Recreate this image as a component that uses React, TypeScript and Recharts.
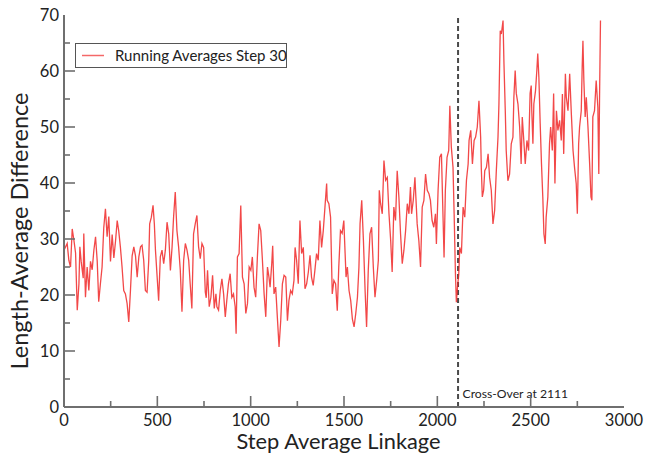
import React from 'react';
import { LineChart, Line, XAxis, YAxis, ReferenceLine, Legend } from 'recharts';

const steps = [
  0, 17, 26, 35, 44, 53, 62, 71, 80, 85, 92, 103, 106, 115, 124, 133, 142, 151, 160, 169,
  178, 186, 195, 204, 213, 222, 231, 240, 249, 258, 267, 276, 285, 293, 302, 311, 320, 329, 338, 347,
  356, 365, 374, 383, 392, 401, 410, 418, 427, 436, 445, 454, 459, 468, 477, 484, 490, 499, 507, 516,
  525, 534, 543, 552, 561, 570, 579, 587, 596, 605, 614, 623, 632, 641, 650, 659, 668, 676, 685, 694,
  703, 712, 721, 730, 739, 748, 757, 762, 769, 778, 787, 796, 805, 814, 819, 828, 837, 846, 855, 864,
  872, 881, 890, 899, 908, 917, 922, 929, 938, 947, 956, 965, 974, 983, 992, 1001, 1009, 1018, 1027, 1036,
  1045, 1054, 1063, 1072, 1081, 1090, 1098, 1104, 1113, 1118, 1125, 1134, 1143, 1152, 1161, 1170, 1179, 1188, 1197, 1205,
  1214, 1223, 1232, 1238, 1246, 1255, 1264, 1273, 1282, 1291, 1300, 1309, 1318, 1326, 1335, 1344, 1353, 1362, 1371, 1380,
  1389, 1398, 1407, 1410, 1419, 1428, 1437, 1446, 1455, 1464, 1472, 1481, 1490, 1499, 1506, 1511, 1518, 1527, 1536, 1545,
  1554, 1563, 1572, 1580, 1586, 1595, 1604, 1613, 1621, 1630, 1639, 1648, 1657, 1666, 1675, 1684, 1689, 1696, 1705, 1714,
  1723, 1732, 1741, 1750, 1758, 1767, 1776, 1785, 1794, 1803, 1812, 1821, 1830, 1839, 1848, 1856, 1862, 1871, 1880, 1885,
  1892, 1901, 1910, 1919, 1928, 1937, 1946, 1955, 1963, 1972, 1981, 1990, 1995, 2004, 2013, 2022, 2031, 2036, 2043, 2052,
  2061, 2067, 2075, 2084, 2090, 2097, 2102, 2108, 2115, 2120, 2129, 2138, 2147, 2156, 2165, 2170, 2179, 2188, 2197, 2205,
  2214, 2223, 2232, 2236, 2241, 2248, 2254, 2263, 2272, 2280, 2289, 2298, 2307, 2316, 2325, 2330, 2337, 2343, 2352, 2357,
  2364, 2369, 2378, 2387, 2396, 2405, 2410, 2417, 2423, 2432, 2441, 2449, 2455, 2462, 2471, 2480, 2489, 2497, 2503, 2506,
  2512, 2517, 2526, 2533, 2538, 2544, 2551, 2558, 2565, 2571, 2578, 2583, 2592, 2601, 2607, 2616, 2623, 2630, 2638, 2646,
  2655, 2664, 2670, 2677, 2686, 2691, 2700, 2709, 2718, 2727, 2735, 2744, 2750, 2757, 2762, 2771, 2776, 2780, 2785, 2792,
  2798, 2807, 2816, 2823, 2828, 2833, 2842, 2851, 2860, 2865, 2869, 2874,
];

const diffs = [
  28, 29.2, 26.2, 25, 31.8, 29.8, 27.5, 17.3, 22, 28.6, 26, 23, 31, 19.6, 25, 20.8, 26, 24.5, 28, 30.4,
  26, 18.8, 22, 25, 32, 35.4, 30.4, 34, 26, 30.8, 26.6, 29.6, 33.3, 31.5, 28.6, 25, 20.8, 20.2, 18.5, 15.2,
  20.8, 27, 28.6, 27, 23.2, 26.8, 28.6, 28.9, 26.2, 20.8, 20.5, 26.2, 32.7, 33.9, 36, 32.7, 28, 23.2, 19, 26.8,
  28, 25.6, 28, 33, 30.9, 24.4, 28.6, 33.9, 38.4, 31.5, 28.6, 24.4, 17, 26.2, 29.2, 28, 26.2, 22, 17.6, 30.9,
  32.7, 34.2, 28.6, 26.5, 29.2, 28.5, 20.5, 19.5, 24.4, 17.9, 19.6, 23.5, 17.6, 20.2, 17.9, 17.3, 20.8, 22.9, 20.2, 16.1,
  19, 22, 23.8, 19.6, 20.2, 17.9, 13.1, 26.8, 27.4, 36, 23.2, 22, 16.7, 18.5, 25, 24.4, 26.8, 21.4, 19.6, 26.8,
  32.7, 31.5, 26.2, 20.2, 16.1, 25, 23.2, 21.4, 25.6, 28.8, 20.2, 21.4, 16, 10.7, 15.4, 22, 23.5, 23.2, 15.4, 19,
  20.8, 20.2, 22.6, 28.5, 26.2, 22, 33.3, 27.4, 28.5, 21.1, 22, 24.1, 27.1, 23.2, 21.7, 24.4, 27.4, 26.2, 33.3, 28.5,
  31.5, 35.7, 39.9, 36.9, 36.3, 33.9, 20.2, 22.6, 22, 17.2, 25, 31.5, 31, 33.3, 27.4, 23.2, 25, 20.8, 19, 15.7,
  14.3, 16.7, 19.6, 25, 32.7, 36.9, 29.8, 20.8, 14.3, 24.4, 30.9, 32.1, 25, 19.6, 22.6, 26.2, 38.7, 36.3, 34.5, 44,
  40.5, 41, 34.5, 29.8, 24.1, 35.7, 33.3, 42.2, 37.5, 30.9, 25.6, 28, 31.5, 36.3, 34.5, 39.3, 34.5, 36.9, 41, 37.5,
  32.7, 29.7, 25, 35.7, 36.9, 41.6, 38.7, 38.1, 36.9, 33.3, 32.1, 34.5, 29.1, 38.7, 44.6, 45.2, 33.3, 26.7, 38.7, 44.6,
  45.8, 53.8, 46.4, 42.8, 34.5, 23.8, 18.7, 21.4, 23.8, 28.5, 27.4, 35.7, 33.9, 40.5, 43.4, 47.6, 49.4, 43.4, 47.6, 48.2,
  50, 54.7, 48.2, 42.2, 37.5, 38.7, 42.2, 42.8, 45.2, 41, 38.7, 32.7, 35.1, 42.2, 48.2, 54.1, 67.2, 66.6, 69, 61.3,
  52.9, 45.8, 40.4, 41.6, 47, 48.2, 55.3, 60.1, 56, 54.1, 50, 43.4, 51.8, 48.2, 43.4, 47.6, 45.8, 56, 57.4, 52.9,
  47, 54.1, 56.5, 60.1, 63.1, 58.9, 50.6, 43.4, 37.5, 30.9, 29.1, 33.9, 37.5, 47, 50, 45.8, 56, 39.9, 52.9, 49.4,
  51.2, 47.6, 55.9, 45.2, 59.5, 55.3, 52.9, 59.5, 52.3, 45.8, 42.8, 39.9, 34.5, 47, 50, 52.9, 60.7, 65.4, 58.3, 51.8,
  55.3, 50, 43.4, 37.5, 36.9, 51.8, 52.9, 58.3, 53.5, 41.6, 55.3, 69,
];

const xTicks = [0, 250, 500, 750, 1000, 1250, 1500, 1750, 2000, 2250, 2500, 2750, 3000];
const yTicks = [0, 5, 10, 15, 20, 25, 30, 35, 40, 45, 50, 55, 60, 65, 70];
const SERIES_NAME = 'Running Averages Step 30';
const CROSSOVER = 2111;
const CROSSOVER_LABEL = 'Cross-Over at 2111';
const X_TITLE = 'Step Average Linkage';
const Y_TITLE = 'Length-Average Difference';

const data = steps.map((s, i) => ({ step: s, diff: diffs[i] }));

const AXIS = '#6f6f6f';
const TEXT = '#222222';
const RED = '#f02828';
const FONT = 'Lato, "Open Sans", sans-serif';

const LeftTick = (p: any) => {
  const v = p.payload.value;
  const major = v % 10 === 0;
  return (
    <g>
      {v > 0 && v < 70 && (
        <line x1={p.x} x2={p.x + (major ? 11 : 6)} y1={p.y} y2={p.y} stroke={AXIS} strokeWidth={1.6} />
      )}
      {major && (
        <text x={p.x - 5} y={p.y} dy="0.36em" textAnchor="end" fontSize={16.5} fill={TEXT} fontFamily={FONT}>
          {v}
        </text>
      )}
    </g>
  );
};

const RightTick = (p: any) => {
  const v = p.payload.value;
  return (
    <g>
      {v > 0 && v < 70 && (
        <line x1={p.x} x2={p.x - 11} y1={p.y} y2={p.y} stroke={AXIS} strokeWidth={1.6} />
      )}
    </g>
  );
};

const BottomTick = (p: any) => {
  const v = p.payload.value;
  const major = v % 500 === 0;
  return (
    <g>
      {v > 0 && v < 3000 && (
        <line x1={p.x} x2={p.x} y1={p.y} y2={p.y - (major ? 11 : 6)} stroke={AXIS} strokeWidth={1.6} />
      )}
      {major && (
        <text x={p.x} y={p.y + 18.5} textAnchor="middle" fontSize={16.5} fill={TEXT} fontFamily={FONT}>
          {v}
        </text>
      )}
    </g>
  );
};

const TopTick = (p: any) => {
  const v = p.payload.value;
  const major = v % 500 === 0;
  return (
    <g>
      {v > 0 && v < 3000 && (
        <line x1={p.x} x2={p.x} y1={p.y} y2={p.y + (major ? 11 : 6)} stroke={AXIS} strokeWidth={1.6} />
      )}
    </g>
  );
};

const YTitle = (props: any) => {
  const vb = props.viewBox || { x: 8, y: 15, width: 56, height: 392 };
  const cx = vb.x + 20;
  const cy = vb.y + vb.height / 2 + 20;
  return (
    <text
      transform={`translate(${cx},${cy}) rotate(-90)`}
      textAnchor="middle"
      fontSize={23.5}
      fill={TEXT}
      fontFamily={FONT}
    >
      {Y_TITLE}
    </text>
  );
};

const XTitle = (props: any) => {
  const vb = props.viewBox || { x: 64, y: 407, width: 560, height: 47 };
  return (
    <text
      x={vb.x + vb.width / 2 - 5.5}
      y={vb.y + 41.5}
      textAnchor="middle"
      fontSize={21.8}
      fill={TEXT}
      fontFamily={FONT}
    >
      {X_TITLE}
    </text>
  );
};

const CrossLabel = (props: any) => {
  const vb = props.viewBox || { x: 0, y: 0, height: 0 };
  return (
    <text x={vb.x + 4.5} y={vb.y + vb.height - 9} fontSize={12.2} fill={TEXT} fontFamily={FONT}>
      {CROSSOVER_LABEL}
    </text>
  );
};

const LegendBox = () => (
  <div
    style={{
      position: 'relative',
      boxSizing: 'border-box',
      width: 212,
      height: 25,
      border: '1px solid #555',
      background: '#fff',
      fontFamily: FONT,
      fontSize: 15,
      color: TEXT,
    }}
  >
    <svg width={30} height={23} style={{ position: 'absolute', left: 0, top: 0 }}>
      <line x1={6} x2={28} y1={11.5} y2={11.5} stroke={RED} strokeWidth={1.5} strokeOpacity={0.7} />
    </svg>
    <span style={{ position: 'absolute', left: 39, top: 2, lineHeight: '19px', whiteSpace: 'nowrap' }}>
      {SERIES_NAME}
    </span>
  </div>
);

export default function App() {
  return (
    <div style={{ position: 'absolute', left: 0, top: 0, width: 648, height: 454 }}>
      <style>{'html,body{margin:0;padding:0;overflow:hidden}'}</style>
      <LineChart width={648} height={454} data={data} margin={{ top: 15, right: 24, left: 8, bottom: 0 }}>
        <XAxis
          xAxisId="b"
          dataKey="step"
          type="number"
          domain={[0, 3000]}
          ticks={xTicks}
          interval={0}
          allowDataOverflow
          height={47}
          tickSize={0}
          tickMargin={0}
          tickLine={false}
          tick={BottomTick}
          axisLine={{ stroke: AXIS, strokeWidth: 2 }}
          label={XTitle}
        />
        <XAxis
          xAxisId="t"
          orientation="top"
          dataKey="step"
          type="number"
          domain={[0, 3000]}
          ticks={xTicks}
          interval={0}
          allowDataOverflow
          height={0}
          tickSize={0}
          tickMargin={0}
          tickLine={false}
          tick={TopTick}
          axisLine={{ stroke: AXIS, strokeWidth: 2 }}
        />
        <YAxis
          yAxisId="l"
          type="number"
          domain={[0, 70]}
          ticks={yTicks}
          interval={0}
          allowDataOverflow
          width={56}
          tickSize={0}
          tickMargin={0}
          tickLine={false}
          tick={LeftTick}
          axisLine={{ stroke: AXIS, strokeWidth: 2 }}
          label={YTitle}
        />
        <YAxis
          yAxisId="r"
          orientation="right"
          type="number"
          domain={[0, 70]}
          ticks={yTicks}
          interval={0}
          allowDataOverflow
          width={0}
          tickSize={0}
          tickMargin={0}
          tickLine={false}
          tick={RightTick}
          axisLine={{ stroke: AXIS, strokeWidth: 2 }}
        />
        <Legend
          layout="horizontal"
          verticalAlign="middle"
          align="center"
          content={LegendBox}
          wrapperStyle={{ left: 75, top: 43, width: 212, height: 25 }}
        />
        <ReferenceLine
          xAxisId="b"
          yAxisId="l"
          x={CROSSOVER}
          stroke="#4a4a4a"
          strokeWidth={2}
          strokeDasharray="5 3"
          label={CrossLabel}
        />
        <Line
          xAxisId="b"
          yAxisId="l"
          type="linear"
          dataKey="diff"
          name={SERIES_NAME}
          stroke={RED}
          strokeWidth={1.3}
          strokeOpacity={0.85}
          dot={false}
          isAnimationActive={false}
        />
      </LineChart>
    </div>
  );
}
